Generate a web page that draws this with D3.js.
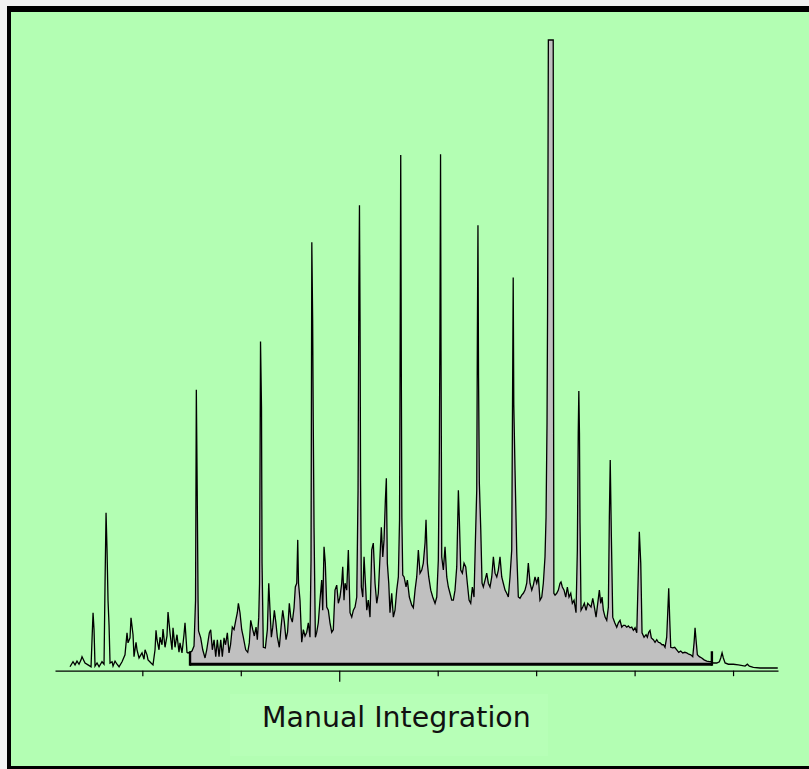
<!DOCTYPE html>
<html>
<head>
<meta charset="utf-8">
<script src="https://cdn.jsdelivr.net/npm/d3@7/dist/d3.min.js"></script>
<style>
  html, body { margin: 0; padding: 0; background: #f2f2f2; }
  svg { display: block; }
</style>
</head>
<body>
<script>
// ---------------- DATA ----------------
// Retention time (min) of each trace vertex
const retentionTime = [
  0.531,0.592,0.633,0.673,0.714,0.755,0.775,0.836,0.897,0.958,0.978,0.999,1.019,1.039,1.080,1.121,1.181,1.222,
  1.242,1.263,1.283,1.303,1.324,1.344,1.385,1.405,1.446,1.486,1.527,1.588,1.648,1.689,1.709,1.750,1.770,1.811,
  1.831,1.872,1.892,1.933,1.994,2.034,2.055,2.095,2.116,2.177,2.217,2.258,2.278,2.298,2.339,2.359,2.400,2.420,
  2.461,2.501,2.522,2.562,2.603,2.623,2.664,2.704,2.745,2.765,2.806,2.846,2.867,2.907,2.928,2.969,
  3.009,3.050,3.081,3.097,3.115,3.132,3.142,3.186,3.227,3.274,3.308,3.361,3.389,3.422,3.457,3.491,3.524,3.558,
  3.593,3.625,3.660,3.690,3.727,3.761,3.792,3.828,3.863,3.898,3.930,3.951,3.984,4.019,4.051,4.100,4.141,4.173,
  4.202,4.243,4.275,4.310,4.336,4.365,4.381,4.401,4.421,4.432,4.458,4.499,4.540,4.568,4.594,4.621,4.649,4.682,
  4.712,4.743,4.783,4.818,4.852,4.885,4.919,4.950,4.986,5.015,5.047,5.082,5.108,5.137,5.157,5.173,5.203,
  5.238,5.271,5.305,5.340,5.372,5.406,5.427,5.443,5.460,5.472,5.488,5.515,5.543,5.575,5.609,5.644,5.664,5.691,
  5.717,5.746,5.778,5.812,5.847,5.880,5.914,5.949,5.982,6.015,6.050,6.071,6.097,6.118,6.152,6.185,6.219,6.254,
  6.287,6.321,6.356,6.382,6.399,6.411,6.423,6.433,6.449,6.478,6.504,6.539,6.559,6.591,6.625,6.660,6.692,6.727,
  6.762,6.794,6.828,6.855,6.884,6.910,6.937,6.957,6.977,7.006,7.031,7.066,7.099,7.133,7.168,7.201,7.225,7.241,
  7.249,7.262,7.272,
  7.290,7.317,7.357,7.384,7.424,7.473,7.505,7.540,7.574,7.607,7.641,7.676,7.708,7.743,7.763,7.790,7.818,7.859,
  7.899,7.946,7.981,8.013,8.034,8.046,8.058,8.068,8.082,8.115,8.149,8.184,8.216,8.250,8.285,8.318,8.352,8.387,
  8.420,8.440,8.468,8.501,8.535,8.570,8.602,8.637,8.671,8.704,8.738,8.765,8.793,8.806,8.818,8.830,8.846,8.875,
  8.901,8.927,8.962,8.996,9.029,9.063,9.098,9.131,9.165,9.200,9.232,9.266,
  9.301,9.333,9.368,9.402,9.435,9.469,9.504,9.520,9.534,9.546,9.571,9.606,9.638,9.672,9.707,9.740,9.774,9.809,
  9.841,9.875,9.911,9.943,9.977,10.012,10.045,10.078,10.114,10.146,10.180,10.201,10.221,10.232,10.248,10.347,
  10.354,10.360,10.384,10.418,10.451,10.485,10.505,10.532,10.567,10.601,10.634,10.668,10.703,10.735,10.770,
  10.810,10.837,10.855,10.867,10.880,10.891,10.912,10.947,10.979,11.014,11.048,11.081,11.115,11.150,11.183,
  11.217,11.251,11.284,11.312,
  11.339,11.365,11.400,11.434,11.467,11.487,11.505,11.528,11.556,11.597,11.637,11.670,11.704,11.739,11.772,
  11.806,11.840,11.873,11.907,11.942,11.975,12.009,12.044,12.070,12.096,12.125,12.151,12.192,12.233,12.259,
  12.287,12.313,12.340,12.381,12.415,12.450,12.483,12.517,12.557,12.588,12.618,12.652,12.673,12.693,12.714,
  12.734,12.775,12.815,12.856,12.897,12.937,12.978,13.019,13.059,13.100,13.141,13.181,13.208,13.228,13.248,
  13.275,13.315,13.364,13.411,13.466,13.519,13.553,13.604,13.669,13.722,13.750,13.777,13.803,13.838,13.905,
  14.006,14.108,14.244,14.291,14.331,14.412,14.548,14.908
];

// Detector response (% of largest peak) at each vertex
const detectorSignal = [
  0.2,1.0,0.5,1.1,0.6,1.3,1.8,0.8,0.5,0.2,4.5,8.8,6.1,0.3,0.8,0.2,1.0,0.6,
  13.2,24.7,18.8,10.8,6.8,0.8,1.0,0.3,1.1,0.6,0.2,1.0,2.1,5.6,4.0,4.8,8.0,5.3,
  1.8,4.1,2.9,1.6,2.4,1.4,2.9,2.1,1.3,0.8,0.5,2.9,6.0,4.5,2.9,4.9,3.7,6.2,
  3.3,5.1,8.9,5.6,2.9,6.4,3.3,5.3,2.5,4.0,2.4,5.3,7.2,2.5,2.4,2.5,
  2.7,3.5,10.8,44.3,28.3,10.8,5.9,4.8,2.9,1.6,2.9,5.6,6.1,2.9,4.5,1.8,4.5,1.8,
  4.5,1.8,4.8,3.7,5.6,2.4,3.7,6.5,6.1,7.6,8.8,10.3,8.8,6.1,4.9,2.9,2.5,4.0,
  7.6,6.1,5.1,6.5,4.5,8.1,13.5,52.0,41.4,16.7,3.3,3.2,6.1,13.5,9.2,4.9,6.5,9.2,
  7.3,4.9,3.3,6.5,9.2,7.3,4.5,5.7,10.3,8.1,7.3,9.6,12.9,13.5,20.4,13.5,10.8,
  4.1,6.1,5.1,5.7,7.2,4.9,17.2,67.8,55.4,39.5,22.3,4.9,5.7,7.2,10.8,14.0,9.2,19.3,
  16.7,9.7,9.2,7.2,5.7,6.1,12.4,13.2,10.3,11.3,13.5,16.1,10.8,13.5,12.4,18.8,8.8,8.1,
  9.2,9.7,11.3,28.3,60.5,73.7,55.4,29.9,12.9,11.3,17.7,12.4,9.2,10.8,8.1,18.8,19.9,13.5,
  10.3,11.9,17.7,22.4,17.7,20.4,26.7,30.2,16.7,13.5,8.8,11.9,8.1,9.2,12.4,14.5,23.6,60.7,
  81.7,45.4,24.0,
  14.8,14.5,12.9,14.0,11.3,10.0,9.6,12.4,14.5,18.8,15.1,15.6,16.7,19.9,23.6,16.7,14.5,12.4,
  11.3,10.3,11.3,17.2,34.7,54.8,81.8,50.5,17.7,15.6,19.3,14.5,12.9,11.9,10.8,10.8,12.4,16.1,
  28.3,23.6,15.6,15.1,16.7,16.1,13.5,10.8,10.3,12.9,11.3,19.9,28.3,52.7,70.5,46.2,29.5,22.0,
  13.5,12.9,14.0,15.1,13.5,12.9,14.5,17.7,15.1,14.5,15.6,17.7,
  14.5,13.5,12.4,11.9,11.3,14.5,18.8,41.9,62.2,41.9,31.5,18.3,11.3,11.1,11.6,11.9,12.4,13.5,
  16.7,13.5,12.4,13.2,14.5,13.5,14.5,10.8,11.3,13.5,17.7,24.0,39.0,56.7,100,100,
  42.7,11.9,11.6,11.9,12.4,13.5,13.7,12.9,12.4,11.3,12.9,11.3,11.9,10.3,10.8,
  8.8,18.8,37.4,44.1,37.4,23.1,9.2,9.7,10.3,9.2,10.3,10.0,9.7,11.1,9.7,
  8.1,10.3,12.4,10.3,
  11.3,9.2,8.1,7.6,9.7,24.0,33.1,20.9,8.1,7.2,6.5,7.2,7.6,6.5,6.8,
  6.8,6.5,6.7,6.4,6.5,6.0,6.4,5.6,13.5,21.7,16.7,5.6,4.9,5.3,4.9,
  5.7,6.0,4.8,4.5,4.1,4.5,4.1,4.0,3.7,3.7,3.3,4.9,8.8,12.7,7.6,
  3.3,3.2,3.3,2.9,2.5,2.7,2.4,2.5,2.4,2.2,2.1,1.8,4.0,6.4,4.5,
  2.1,1.8,1.6,1.3,1.1,1.0,1.0,0.8,0.8,1.0,1.6,2.4,1.6,0.8,0.6,
  0.6,0.5,0.3,0.6,0.3,0.1,0.0,0.0
];

// Manual integration window (min) and its drawn baseline level
const integrationStart = 2.969;
const integrationEnd = 13.57;
const integrationBaseline = 0.6;

// Axis ticks (min); one major tick
const tickMinutes = [2, 4, 6, 8, 10, 12, 14];
const majorTickMinutes = [6];

const labelText = "Manual Integration";

// ---------------- DRAW ----------------
const W = 809, H = 769;
const svg = d3.select("body").append("svg").attr("width", W).attr("height", H);

svg.append("rect").attr("x", 0).attr("y", 0).attr("width", W).attr("height", H).attr("fill", "#f2f2f2");
svg.append("rect").attr("x", 7).attr("y", 6).attr("width", W - 7).attr("height", H - 6).attr("fill", "#000");
svg.append("rect").attr("x", 11).attr("y", 12).attr("width", W - 11).attr("height", 754).attr("fill", "#b3feb3");

// label panel
svg.append("rect").attr("x", 230).attr("y", 694).attr("width", 318).attr("height", 62).attr("fill", "#b7ffb7");

const x = d3.scaleLinear().domain([0.226, 14.913]).range([55, 778]);
const y = d3.scaleLinear().domain([0, 100]).range([668, 40]);

const pts = retentionTime.map((t, i) => ({ t, v: detectorSignal[i] }));

// integrated area (clipped to the window)
svg.append("clipPath").attr("id", "win")
  .append("rect")
  .attr("x", x(integrationStart)).attr("y", 0)
  .attr("width", x(integrationEnd) - x(integrationStart))
  .attr("height", y(integrationBaseline));

const area = d3.area().x(d => x(d.t)).y0(y(integrationBaseline)).y1(d => y(d.v));
svg.append("path").datum(pts).attr("clip-path", "url(#win)")
  .attr("d", area).attr("fill", "#c0c0c0");

// trace
const line = d3.line().x(d => x(d.t)).y(d => y(d.v));
svg.append("path").datum(pts).attr("d", line)
  .attr("fill", "none").attr("stroke", "#000").attr("stroke-width", 1.3)
  .attr("stroke-linejoin", "miter");

// integration baseline + end markers
svg.append("line")
  .attr("x1", x(integrationStart)).attr("x2", x(integrationEnd))
  .attr("y1", y(integrationBaseline)).attr("y2", y(integrationBaseline))
  .attr("stroke", "#000").attr("stroke-width", 3.2);
[integrationStart, integrationEnd].forEach(t => {
  svg.append("line")
    .attr("x1", x(t)).attr("x2", x(t))
    .attr("y1", y(integrationBaseline) + 1.5).attr("y2", y(integrationBaseline) - 13)
    .attr("stroke", "#000").attr("stroke-width", 2.4);
});

// axis
const axisY = 670.7;
const axisG = svg.append("g").attr("transform", `translate(0,${axisY})`)
  .call(d3.axisBottom(x).tickValues(tickMinutes).tickSize(5.5).tickSizeOuter(0).tickFormat(""));
axisG.select(".domain").attr("stroke", "#000").attr("stroke-width", 1.2);
axisG.selectAll(".tick line").attr("stroke", "#000").attr("stroke-width", 1.2)
  .attr("y2", d => majorTickMinutes.includes(d) ? 11 : 5.5);

// label
svg.append("text").attr("x", 262).attr("y", 727)
  .attr("font-family", "DejaVu Sans, Verdana, sans-serif").attr("font-size", 28.4)
  .attr("fill", "#111").text(labelText);
</script>
</body>
</html>
